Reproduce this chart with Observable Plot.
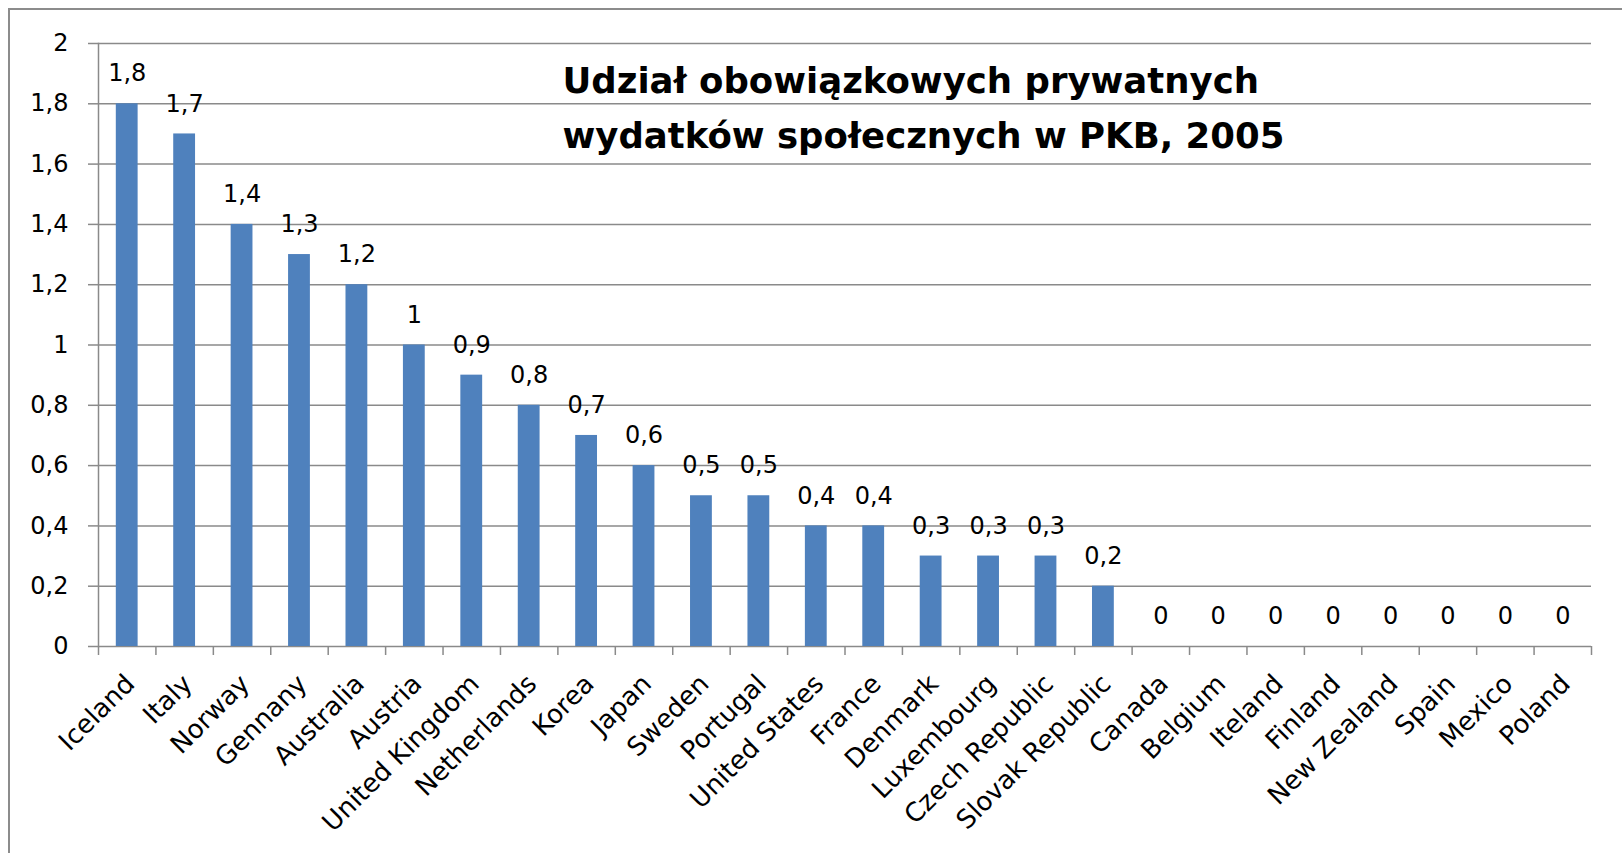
<!DOCTYPE html>
<html>
<head>
<meta charset="utf-8">
<script src="https://cdn.jsdelivr.net/npm/d3@7"></script>
<script src="https://cdn.jsdelivr.net/npm/@observablehq/plot@0.6"></script>
<style>
  html, body { margin: 0; padding: 0; background: #fff; overflow: hidden; }
  #wrap { position: relative; width: 1622px; height: 853px; }
  #border { position: absolute; left: 8px; top: 8px; right: -10px; bottom: -10px;
            border: 2px solid #8c8c8c; pointer-events: none; }
</style>
</head>
<body>
<div id="wrap"><div id="chart"></div><div id="border"></div></div>
<script>
const countries = ["Iceland", "Italy", "Norway", "Gennany", "Australia", "Austria",
  "United Kingdom", "Netherlands", "Korea", "Japan", "Sweden", "Portugal",
  "United States", "France", "Denmark", "Luxembourg", "Czech Republic",
  "Slovak Republic", "Canada", "Belgium", "Iteland", "Finland", "New Zealand",
  "Spain", "Mexico", "Poland"];
const values = [1.8, 1.7, 1.4, 1.3, 1.2, 1, 0.9, 0.8, 0.7, 0.6, 0.5, 0.5,
  0.4, 0.4, 0.3, 0.3, 0.3, 0.2, 0, 0, 0, 0, 0, 0, 0, 0];
const yTicks = [0, 0.2, 0.4, 0.6, 0.8, 1, 1.2, 1.4, 1.6, 1.8, 2];
const titleLines = ["Udział obowiązkowych prywatnych", "wydatków społecznych w PKB, 2005"];

const data = countries.map((c, i) => ({country: c, value: values[i]}));
const fmt = d => String(d).replace(".", ",");

const W = 1622, H = 853, mL = 98, mR = 31, mT = 43, mB = 207;
const step = (W - mL - mR) / countries.length;
const grid = "#8a8a8a";

const chart = Plot.plot({
  width: W, height: H,
  marginLeft: mL, marginRight: mR, marginTop: mT, marginBottom: mB,
  style: {fontFamily: "'DejaVu Sans', sans-serif", fontSize: "24px", color: "#000", background: "transparent"},
  x: {type: "band", domain: countries, paddingInner: 0.62, paddingOuter: 0.31, round: false, label: null},
  y: {domain: [0, 2], label: null},
  marks: [
    Plot.gridY(yTicks, {stroke: grid, strokeOpacity: 1, strokeWidth: 1.5}),
    Plot.frame({anchor: "left", stroke: grid, strokeWidth: 1.5}),
    Plot.axisY({ticks: yTicks, tickSize: 10, tickPadding: 20, tickFormat: fmt,
      stroke: grid, strokeWidth: 1.5, label: null}),
    Plot.axisX({tickSize: 9, tickFormat: () => "", dx: -step / 2, stroke: grid, strokeWidth: 1.5, label: null}),
    Plot.axisX({ticks: [countries[countries.length - 1]], tickSize: 9, tickFormat: () => "",
      dx: step / 2, stroke: grid, strokeWidth: 1.5, label: null}),
    Plot.axisX({tickSize: 0, tickPadding: 33, tickRotate: -45, dx: 3, fontSize: 26, label: null}),
    Plot.barY(data, {x: "country", y: "value", fill: "#4f81bd"}),
    Plot.text(data, {x: "country", y: "value", text: d => fmt(d.value), dy: -30, fill: "#000"}),
    Plot.text([titleLines.join("\n")], {frameAnchor: "top-left", textAnchor: "start",
      lineAnchor: "top", dx: 464, dy: 10, fontSize: 35.5, fontWeight: "bold",
      lineHeight: 1.56, fill: "#000"})
  ]
});
document.getElementById("chart").appendChild(chart);
</script>
</body>
</html>
